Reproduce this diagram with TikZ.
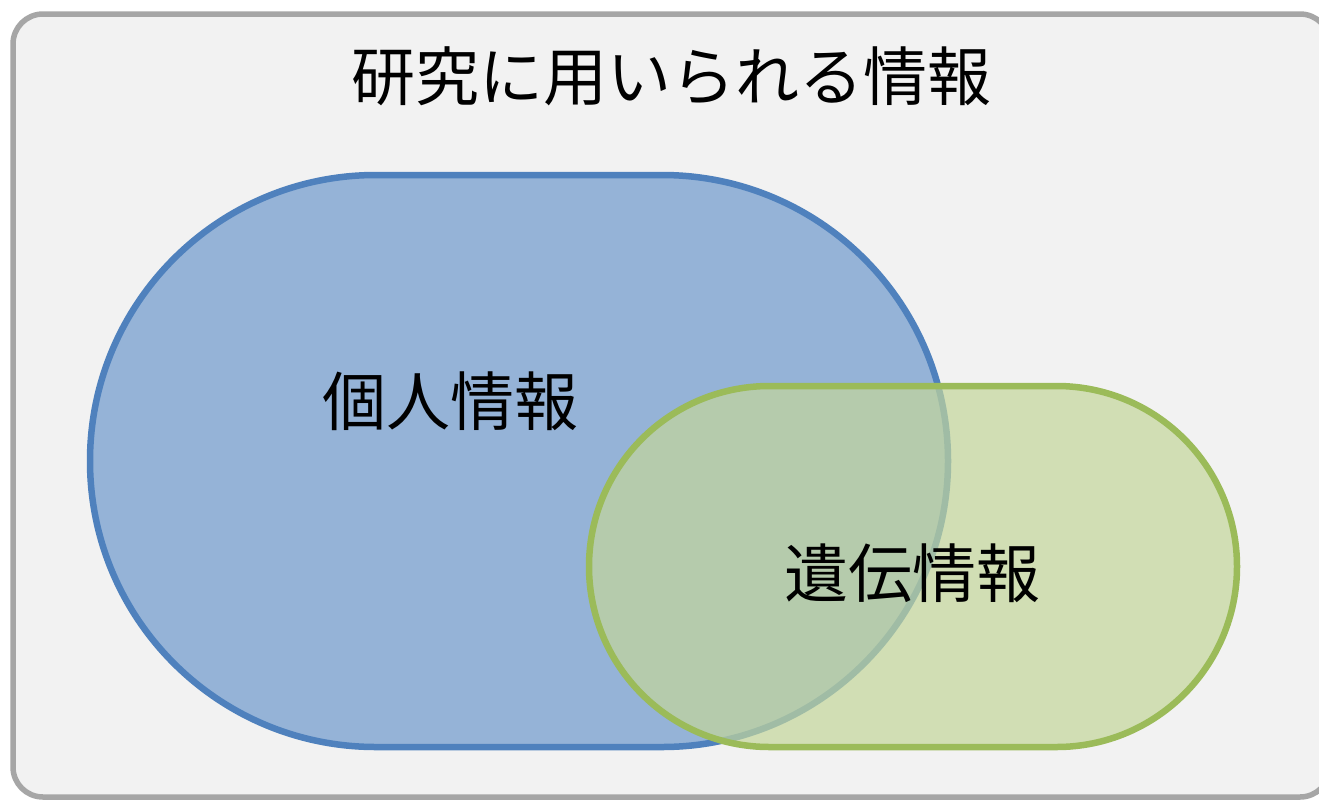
\documentclass[tikz,border=0pt]{standalone}
\usepackage{fontspec}
\newfontfamily\jp{Noto Sans CJK JP}
\definecolor{bgfill}{HTML}{F2F2F2}
\definecolor{bgline}{HTML}{A6A6A6}
\definecolor{bluefill}{HTML}{95B3D7}
\definecolor{blueline}{HTML}{4F81BD}
\definecolor{greenfill}{HTML}{C3D69B}
\definecolor{greenline}{HTML}{9BBB59}
\tikzset{
  label/.style={font=\jp\fontsize{64}{70}\selectfont, text=black, inner sep=0pt},
  frame/.style={draw=bgline, fill=bgfill, line width=5.5pt, rounded corners=30pt},
  setblue/.style={draw=blueline, fill=bluefill, line width=6.5pt},
  setgreen/.style={draw=greenline, fill=greenfill, fill opacity=0.7, line width=6.5pt},
}
\begin{document}
\begin{tikzpicture}[x=1pt,y=-1pt]
\useasboundingbox (0,0) rectangle (1319,801);
\draw[frame] (13,14) rectangle (1330,797);
\draw[setblue, rounded corners=286pt] (90,175) rectangle (948,747);
\draw[setgreen, rounded corners=180.5pt] (589,386) rectangle (1237,747);
\node[label] (title) at (671,76) {研究に用いられる情報};
\node[label] (personal) at (450,401) {個人情報};
\node[label] (genetic) at (912,573) {遺伝情報};
\end{tikzpicture}
\end{document}
